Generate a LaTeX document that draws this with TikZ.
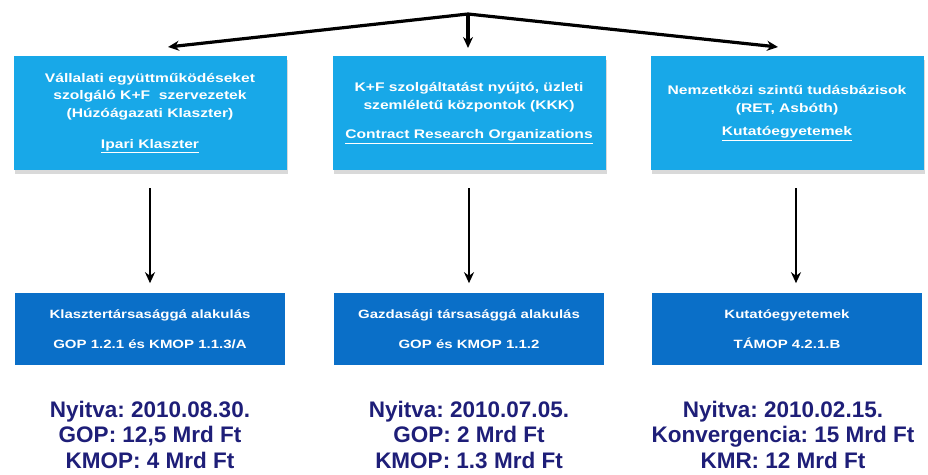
\documentclass[tikz,border=0pt]{standalone}
\usepackage{fontspec}
\setmainfont{Liberation Sans}
\newfontfamily\boxfont{Liberation Sans}[FakeStretch=1.25]
\usepackage{tikz}
\usetikzlibrary{positioning, arrows.meta, shadows}
\usepackage{xcolor}
\definecolor{kf-cyan}{RGB}{24,168,232}
\definecolor{kf-blue}{RGB}{10,111,200}
\definecolor{kf-navy}{RGB}{30,30,120}
\frenchspacing

\begin{document}
\begin{tikzpicture}[x=1pt, y=-1pt, node distance=123pt,
	upper/.style={fill=kf-cyan, text=white, minimum width=273pt, minimum height=114pt, align=center, font=\boxfont\bfseries\fontsize{12.5}{17.5}\selectfont, drop shadow={shadow xshift=1pt, shadow yshift=-4pt, opacity=0.3}},
	lower/.style={fill=kf-blue, text=white, minimum width=270pt, minimum height=72pt, align=center, font=\boxfont\bfseries\fontsize{12}{30}\selectfont},
	note/.style={text=kf-navy, align=center, inner sep=0pt, font=\bfseries\fontsize{22.5}{25.5}\selectfont},
	arr/.style={line width=2.8pt, -{Stealth[length=11pt, width=10pt]}}]
							\useasboundingbox (0,0) rectangle (928,474);
							\node[upper] (up1) at (150,113) {V\'allalati egy\"uttm\H{u}k\"od\'eseket\\ szolg\'al\'o K+F\ \ szervezetek\\ (H\'uz\'o\'agazati Klaszter)\\[14pt] \underline{Ipari Klaszter}};
							\node[upper] (up2) at (469,113) {K+F szolg\'altat\'ast ny\'ujt\'o, \"uzleti\\ szeml\'elet\H{u} k\"ozpontok (KKK)\\[12pt] \underline{Contract Research Organizations}};
							\node[upper] (up3) at (787,113) {Nemzetk\"ozi szint\H{u} tud\'asb\'azisok\\ (RET, Asb\'oth)\\[6pt] \underline{Kutat\'oegyetemek}};
							\node[lower, below =of up1] (low1) {Klasztert\'arsas\'agg\'a alakul\'as\\ GOP 1.2.1 \'es KMOP 1.1.3/A};
							\node[lower, below =of up2] (low2) {Gazdas\'agi t\'arsas\'agg\'a alakul\'as\\ GOP \'es KMOP 1.1.2};
							\node[lower, below =of up3] (low3) {Kutat\'oegyetemek\\ T\'AMOP 4.2.1.B};
							\node[note, below =35pt of low1] (fund1) {Nyitva: 2010.08.30.\\ GOP: 12,5 Mrd Ft\\ KMOP: 4 Mrd Ft};
							\node[note, below =35pt of low2] (fund2) {Nyitva: 2010.07.05.\\ GOP: 2 Mrd Ft\\ KMOP: 1.3 Mrd Ft};
							\node[note, below =35pt of low3, xshift=-4pt] (fund3) {Nyitva: 2010.02.15.\\ Konvergencia: 15 Mrd Ft\\ KMR: 12 Mrd Ft};
							\coordinate (apex) at (468,14);
							\coordinate (tl) at (168,47);
							\coordinate (tm) at (468,48);
							\coordinate (tr) at (778,47);
							\draw[arr, line width=3.2pt] (apex) -- (tl);
							\draw[arr, line width=3.2pt] (apex) -- (tm);
							\draw[arr, line width=3.2pt] (apex) -- (tr);
							\draw[arr, shorten <=18pt, shorten >=10pt] (up1) -- (low1);
							\draw[arr, shorten <=18pt, shorten >=10pt] (up2) -- (low2);
							\draw[arr, shorten <=18pt, shorten >=10pt] ([xshift=9pt]up3.south) -- ([xshift=9pt]low3.north);
						\end{tikzpicture}
\end{document}
